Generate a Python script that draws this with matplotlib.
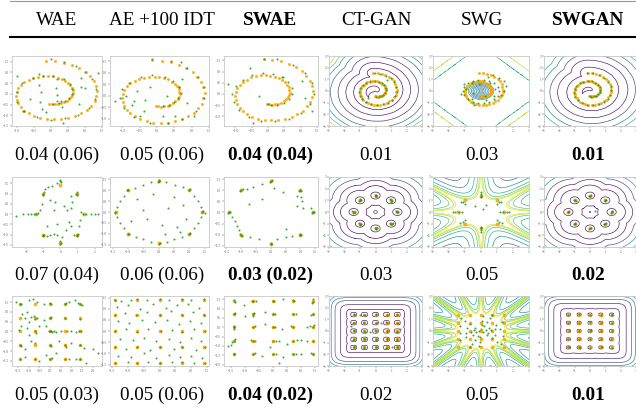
import numpy as np
import matplotlib.pyplot as plt
from matplotlib.lines import Line2D

plt.rcParams['font.family'] = ['Liberation Serif', 'DejaVu Serif']

W, H = 636, 408

methods = ['WAE', 'AE +100 IDT', 'SWAE', 'CT-GAN', 'SWG', 'SWGAN']
bold_methods = ['SWAE', 'SWGAN']
scores = [
    ['0.04 (0.06)', '0.05 (0.06)', '0.04 (0.04)', '0.01', '0.03', '0.01'],
    ['0.07 (0.04)', '0.06 (0.06)', '0.03 (0.02)', '0.03', '0.05', '0.02'],
    ['0.05 (0.03)', '0.05 (0.06)', '0.04 (0.02)', '0.02', '0.05', '0.01'],
]

# ---- target distributions (orange) ----
spiral_deg = [95, 85, 75, 65, 55, 45, 35, 25, 15, 5, -5, -15, -25, -35, -45, -55,
              -65, -75, -85, -95, -105, -115, -125, -135, -145, -155, -165, -175,
              -185, -195, -205, -215, -225, -235, -245, -255, -265, -275, -285, -295,
              -305, -315, -325, -335, -345, -355, -365, -375, -385, -395, -405, -415,
              -425, -435, -445, -455]
spiral_r = [1.55, 1.54, 1.51, 1.50, 1.47, 1.46, 1.43, 1.42, 1.39, 1.38, 1.35, 1.34,
            1.31, 1.30, 1.27, 1.26, 1.23, 1.22, 1.19, 1.18, 1.15, 1.14, 1.11, 1.10,
            1.07, 1.06, 1.03, 1.02, 0.99, 0.98, 0.95, 0.94, 0.91, 0.90, 0.87, 0.86,
            0.83, 0.82, 0.79, 0.78, 0.75, 0.74, 0.71, 0.70, 0.67, 0.66, 0.63, 0.62,
            0.59, 0.58, 0.55, 0.54, 0.51, 0.50, 0.47, 0.46]
mode8_x = [1.41, 1.0, 0.0, -1.0, -1.41, -1.0, 0.0, 1.0]
mode8_y = [0.0, 1.0, 1.41, 1.0, 0.0, -1.0, -1.41, -1.0]
grid25 = [-1.41, -0.71, 0.0, 0.71, 1.41]

# ---- generated samples (green), row 1 in (angle deg, radius) ----
wae_spiral = [(90, 1.62), (75, 1.52), (60, 1.5), (45, 1.45), (30, 1.42), (10, 1.36), (-10, 1.33),
              (-30, 1.3), (-50, 1.26), (-70, 1.2), (-90, 1.2), (-110, 1.14), (-135, 1.1), (-160, 1.06),
              (-185, 1.0), (-210, 0.97), (-235, 0.92), (-255, 0.88), (-275, 0.84), (-300, 0.78),
              (-320, 0.74), (-340, 0.68), (-360, 0.64), (-380, 0.58), (-400, 0.54), (-420, 0.5),
              (-440, 0.46), (20, 0.95), (40, 1.15), (130, 0.55), (160, 0.3), (200, 0.65), (250, 0.75),
              (300, 0.4), (-30, 0.95), (-60, 0.7), (60, 0.3), (110, 1.0), (140, 1.3), (-10, 0.2),
              (225, 1.15), (15, 1.05), (-100, 0.85), (-130, 0.5), (75, 0.7), (-75, 1.4), (35, 1.7),
              (-45, 0.45)]
ae_spiral = [(95, 1.6), (75, 1.56), (55, 1.5), (35, 1.46), (15, 1.41), (-5, 1.37), (-30, 1.31),
             (-55, 1.27), (-75, 1.22), (-100, 1.2), (-125, 1.15), (-150, 1.12), (-175, 1.08),
             (-195, 1.05), (-215, 1.0), (-240, 0.95), (-260, 0.9), (-285, 0.86), (-305, 0.8),
             (-330, 0.74), (-350, 0.7), (-370, 0.63), (-390, 0.58), (-410, 0.53), (-430, 0.49),
             (180, 0.9), (200, 0.7), (160, 0.62), (-20, 0.92), (30, 0.72), (-80, 0.92), (-120, 0.78),
             (210, 0.4), (120, 0.42), (-60, 1.02), (240, 1.0), (0, 0.3), (-150, 0.85), (45, 1.02),
             (-170, 1.25), (65, 1.62), (-40, 1.4)]
swae_spiral = [(95, 1.55), (80, 1.58), (60, 1.5), (40, 1.46), (20, 1.42), (0, 1.4), (-20, 1.36),
               (-40, 1.32), (-60, 1.3), (-80, 1.25), (-100, 1.22), (-120, 1.2), (-140, 1.15),
               (-160, 1.12), (-180, 1.1), (-200, 1.06), (-220, 1.0), (-240, 0.97), (-260, 0.94),
               (-280, 0.9), (-300, 0.85), (-320, 0.8), (-340, 0.77), (-360, 0.72), (-380, 0.68),
               (-400, 0.62), (-420, 0.56), (-440, 0.5), (-450, 0.46), (115, 1.3), (30, 1.2),
               (-30, 1.55), (200, 0.3), (-200, 1.3), (60, 0.9), (-10, 1.15), (-110, 1.38)]
ctgan_spiral = [(92, 1.54), (78, 1.52), (62, 1.49), (48, 1.47), (32, 1.44), (15, 1.4), (-2, 1.37),
                (-18, 1.34), (-35, 1.31), (-52, 1.28), (-68, 1.24), (-86, 1.2), (-104, 1.18),
                (-122, 1.14), (-140, 1.1), (-158, 1.07), (-176, 1.04), (-194, 1.0), (-212, 0.97),
                (-230, 0.93), (-248, 0.9), (-266, 0.86), (-284, 0.82), (-302, 0.78), (-320, 0.75),
                (-338, 0.71), (-356, 0.67), (-374, 0.63), (-392, 0.6), (-410, 0.56), (-428, 0.52),
                (-446, 0.48), (50, 1.2), (-130, 0.8)]
swg_spiral = [(0, 1.15), (20, 1.1), (40, 1.05), (60, 1.0), (80, 0.98), (100, 0.98), (120, 1.0),
              (140, 1.05), (160, 1.1), (180, 1.15), (200, 1.12), (220, 1.08), (240, 1.05), (260, 1.02),
              (280, 1.02), (300, 1.05), (320, 1.1), (340, 1.14), (10, 0.9), (50, 0.85), (130, 0.85),
              (170, 0.95), (230, 0.9), (290, 0.85), (330, 0.92), (70, 1.3), (45, 1.55), (30, 1.65),
              (15, 1.6), (0, 1.45), (-15, 1.3), (190, 1.3), (250, 1.25), (150, 1.2), (100, 0.6),
              (300, 0.5), (200, 0.55), (60, 1.55)]
swgan_spiral = [(96, 1.56), (82, 1.53), (66, 1.5), (50, 1.46), (34, 1.43), (18, 1.41), (2, 1.38),
                (-14, 1.35), (-30, 1.32), (-46, 1.29), (-62, 1.26), (-80, 1.21), (-98, 1.19),
                (-116, 1.15), (-134, 1.12), (-152, 1.08), (-170, 1.05), (-188, 1.01), (-206, 0.98),
                (-224, 0.95), (-242, 0.91), (-260, 0.87), (-278, 0.84), (-296, 0.8), (-314, 0.76),
                (-332, 0.72), (-350, 0.69), (-368, 0.65), (-386, 0.61), (-404, 0.57), (-422, 0.53),
                (-440, 0.49), (-452, 0.46)]

# ---- row 2 (8 gaussians), (x, y) ----
wae_8g = [(-2.6, -0.1), (-2.2, 0), (-1.9, 0), (-1.7, 0), (-1.55, -0.02), (-1.45, 0), (-1.3, 0.05),
          (-1.2, 0.2), (-1.1, 0.5), (-1.0, 1.0), (-0.95, 1.05), (-1.05, 0.95), (-0.9, 1.2), (-0.7, 1.3),
          (-0.5, 1.35), (-0.2, 1.5), (0, 1.6), (0.05, 1.55), (-0.05, 1.65), (0.6, 0.9), (0.9, 1.0),
          (0.95, 1.05), (1.0, 0.95), (0.7, 0.6), (0.6, 0.3), (0.5, -0.4), (0.6, -0.6), (1.2, 0.1),
          (1.3, 0.0), (1.5, 0.0), (1.8, 0.0), (2.0, -0.02), (2.2, 0.0), (1.15, -0.3), (1.1, -0.6),
          (1.0, -1.0), (0.95, -1.05), (1.05, -0.95), (0.8, -1.0), (-1.0, -1.0), (-0.95, -1.0),
          (-1.05, -1.05), (-0.8, -1.05), (-0.6, -1.0), (-0.4, -0.95), (-0.2, -1.0), (0, -1.45),
          (0.02, -1.4), (-0.05, -1.3), (0.1, -1.1), (-0.4, 0.2), (-0.6, 0.7), (0.2, 0.4), (-0.2, -0.5),
          (0.3, -0.8), (-0.8, -0.6), (0.4, 0.2), (-0.3, 0.6)]
ae_8g = [(1.41, 0), (1.45, 0.05), (1.5, -0.05), (1.38, 0.25), (1.28, 0.5), (1.15, 0.75), (1, 1),
         (1.02, 1.03), (0.78, 1.12), (0.52, 1.25), (0.25, 1.36), (0, 1.45), (0.02, 1.42), (-0.03, 1.38),
         (-0.25, 1.35), (-0.5, 1.25), (-0.78, 1.1), (-1, 1), (-1.03, 0.98), (-1.15, 0.72), (-1.28, 0.48),
         (-1.38, 0.22), (-1.45, 0), (-1.42, -0.03), (-1.36, -0.25), (-1.26, -0.5), (-1.15, -0.75),
         (-1, -1), (-0.98, -1.02), (-0.76, -1.12), (-0.5, -1.25), (-0.25, -1.35), (0, -1.45),
         (0.03, -1.42), (0.26, -1.36), (0.5, -1.25), (0.75, -1.12), (1, -1), (1.02, -0.97),
         (1.16, -0.72), (1.28, -0.5), (1.38, -0.25), (0.3, 0.2), (-0.4, -0.3), (0.6, -0.7),
         (-0.7, 0.6), (0.1, -0.6), (0.8, 0.3), (-0.2, 0.8), (0.5, 0.7), (-0.9, -0.4), (0.9, -0.3),
         (-0.5, 0.1), (0.2, -1.0), (0.7, -0.9)]
swae_8g = [(-1.41, 0), (-1.38, 0.02), (-1.44, -0.03), (-1.3, -0.2), (-1.22, -0.4), (-1.15, -0.6),
           (-1.08, -0.8), (-1.0, -1.0), (-0.98, -1.05), (-1.03, -0.95), (-0.7, -1.1), (-0.4, -1.2),
           (-1.0, 1.0), (-0.95, 1.05), (-1.05, 0.98), (-0.8, 1.05), (-0.6, 1.15), (-0.3, 1.3), (0, 1.41),
           (0.03, 1.45), (-0.03, 1.38), (1.0, 1.0), (1.03, 0.95), (0.95, 0.98), (1.02, 0.7), (1.05, 0.5),
           (1.1, 0.2), (0.9, 0.3), (1.41, 0), (1.45, 0.03), (1.38, -0.04), (1.35, 0.2), (1.0, -1.0),
           (0.98, -0.97), (1.03, -1.02), (0.7, -1.05), (0.5, -1.1), (0.2, -1.2), (0, -1.41),
           (0.02, -1.38), (-0.3, 0.6), (0.4, 0.9), (0.1, 1.1), (0.9, 0.75), (-0.75, 0.4), (0.5, -0.75)]
ctgan_8g = [(1.41, 0), (1.35, 0.05), (1.47, -0.04), (1.4, 0.08), (1.0, 1.0), (0.95, 1.08), (1.05, 0.95),
            (0.98, 0.9), (0, 1.41), (-0.05, 1.5), (0.04, 1.36), (0.02, 1.45), (-1.0, 1.0), (-1.06, 0.95),
            (-0.95, 1.05), (-1.02, 1.08), (-1.41, 0), (-1.5, 0.05), (-1.35, -0.03), (-1.45, -0.06),
            (-1.0, -1.0), (-1.08, -0.96), (-0.94, -1.05), (-1.0, -1.08), (0, -1.41), (0.05, -1.48),
            (-0.04, -1.35), (0.08, -1.4), (1.0, -1.0), (1.06, -1.05), (0.95, -0.96), (1.1, -0.98)]
swg_8g = [(0, 1.25), (0.02, 1.4), (-0.02, 1.55), (0, 1.7), (1.2, 0), (1.4, 0.02), (1.6, -0.03),
          (1.75, 0), (-1.2, 0), (-1.4, 0.02), (-1.6, -0.02), (-1.75, 0), (0, -1.25), (0.03, -1.4),
          (-0.02, -1.55), (0, -1.7), (1.0, 0.72), (1.15, 0.82), (1.28, 0.9), (-1.0, 0.72),
          (-1.15, 0.82), (-1.28, 0.9), (-1.0, -0.72), (-1.15, -0.82), (-1.3, -0.9), (1.0, -0.72),
          (1.15, -0.82), (1.3, -0.92), (0.3, 0.6), (-0.4, 0.5), (0.1, 0.3)]
swgan_8g = [(1.41, 0), (1.36, -0.05), (1.45, 0.06), (1.0, 1.0), (1.05, 1.04), (0.96, 0.93), (0, 1.41),
            (0.05, 1.46), (-0.04, 1.35), (-1.0, 1.0), (-1.05, 1.05), (-0.94, 0.96), (-1.41, 0),
            (-1.46, -0.04), (-1.36, 0.05), (-1.0, -1.0), (-1.04, -1.06), (-0.95, -0.94), (0, -1.41),
            (-0.05, -1.47), (0.04, -1.36), (1.0, -1.0), (1.06, -0.95), (0.94, -1.05), (0.35, 0.1)]

# ---- row 3 (25 gaussians), (x, y) ----
wae_25g = [(-1.6, 1.5), (-1.4, 1.4), (-1.35, 1.42), (-1.0, 1.6), (-0.8, 1.65), (-0.6, 1.5), (-0.3, 1.4),
           (0.0, 1.45), (0.05, 1.4), (0.7, 1.4), (0.75, 1.45), (1.3, 1.45), (1.4, 1.4), (1.5, 1.35),
           (0.9, 1.5), (1.15, 1.6), (-1.3, 0.9), (-1.1, 1.0), (-1.2, 0.7), (-0.9, 0.75), (-1.0, 0.5),
           (-0.7, 0.65), (-0.6, 0.7), (-0.75, 0.8), (-0.3, 0.6), (-1.35, 0.3), (-1.45, 0.1), (-1.1, 0.2),
           (-0.5, 0.3), (0.0, 0.7), (0.05, 0.75), (0.7, 0.7), (1.4, 0.65), (0.0, 0.0), (0.05, 0.02),
           (0.1, -0.05), (-0.05, 0.05), (0.2, 0.0), (0.3, -0.02), (0.5, 0.0), (0.8, 0.0), (1.0, 0.0),
           (1.2, -0.05), (1.35, 0.0), (1.45, 0.02), (-0.7, 0.0), (-0.65, -0.1), (-1.0, -0.2),
           (-1.4, -0.7), (-1.35, -0.75), (-1.2, -0.9), (-0.7, -0.6), (-0.9, -0.5), (0.0, -0.7),
           (0.05, -0.75), (0.4, -0.5), (0.7, -0.7), (0.75, -0.8), (1.0, -0.6), (1.4, -0.7), (1.6, -0.85),
           (2.0, -0.9), (2.25, -1.1), (-1.4, -1.4), (-1.2, -1.3), (-0.7, -1.4), (-0.5, -1.5),
           (-0.2, -1.2), (0.0, -1.4), (0.1, -1.35), (0.7, -1.4), (0.9, -1.42), (1.2, -1.4), (1.4, -1.38),
           (1.7, -1.6), (0.3, -1.1), (-0.2, 0.3)]
ae_25g = [(-1.4, 1.4), (-1.2, 1.35), (-0.9, 1.4), (-0.7, 1.42), (-0.4, 1.38), (0.0, 1.42), (0.3, 1.4),
          (0.7, 1.43), (1.0, 1.38), (1.4, 1.42), (-1.35, 1.1), (-1.0, 1.15), (-0.6, 1.0), (-0.2, 1.2),
          (0.2, 1.05), (0.55, 1.15), (0.9, 1.2), (1.25, 1.05), (-1.42, 0.7), (-1.1, 0.8), (-0.75, 0.7),
          (-0.4, 0.85), (0.0, 0.72), (0.35, 0.9), (0.7, 0.7), (1.05, 0.85), (1.4, 0.72), (-1.3, 0.45),
          (-0.95, 0.35), (-0.55, 0.5), (-0.15, 0.4), (0.25, 0.5), (0.6, 0.3), (0.95, 0.45), (1.3, 0.35),
          (-1.42, 0.0), (-1.05, 0.1), (-0.7, -0.05), (-0.35, 0.1), (0.05, 0.0), (0.4, 0.05), (0.72, -0.02),
          (1.1, 0.1), (1.42, 0.0), (-1.25, -0.35), (-0.85, -0.4), (-0.5, -0.3), (-0.1, -0.45),
          (0.3, -0.35), (0.65, -0.5), (1.0, -0.3), (1.3, -0.45), (-1.4, -0.72), (-1.05, -0.8),
          (-0.72, -0.7), (-0.3, -0.85), (0.0, -0.7), (0.45, -0.8), (0.72, -0.7), (1.15, -0.85),
          (1.42, -0.7), (-1.3, -1.1), (-0.9, -1.15), (-0.5, -1.0), (-0.1, -1.2), (0.3, -1.05),
          (0.65, -1.15), (1.0, -1.1), (1.35, -1.2), (-1.42, -1.42), (-1.0, -1.38), (-0.7, -1.42),
          (-0.35, -1.4), (0.0, -1.42), (0.4, -1.38), (0.72, -1.4), (1.1, -1.42), (1.42, -1.42)]
swae_25g = [(-1.41, 1.45), (-1.35, 1.35), (-0.71, 1.41), (-0.75, 1.38), (-0.6, 1.42), (0, 1.41),
            (0.03, 1.38), (0.71, 1.45), (0.75, 1.4), (1.41, 1.5), (1.41, 1.35), (1.38, 1.28), (0.35, 1.5),
            (-1.05, 1.2), (-1.41, 0.71), (-1.35, 0.75), (-0.71, 0.7), (-0.71, 0.6), (-0.68, 0.78),
            (0, 0.71), (0.05, 0.71), (0.71, 0.72), (0.8, 0.7), (1.41, 0.71), (1.35, 0.68), (-1.0, 0.62),
            (-0.3, 0.8), (-1.41, 0.0), (-1.41, -0.1), (-1.38, 0.08), (-0.71, 0.0), (-0.65, 0.05), (0, 0.0),
            (0.05, 0.02), (0.71, 0.0), (0.65, 0.05), (1.41, 0.0), (1.3, 0.05), (1.2, 0.02), (1.45, 0.1),
            (-0.3, 0.2), (0.3, -0.1), (-1.41, -0.71), (-1.35, -0.65), (-1.45, -0.8), (-0.71, -0.71),
            (-0.65, -0.75), (-0.78, -0.7), (0, -0.71), (0.1, -0.72), (0.2, -0.75), (0.71, -0.71),
            (0.85, -0.7), (1.41, -0.71), (1.2, -0.72), (1.0, -0.7), (-1.5, -0.95), (-1.6, -1.0),
            (-1.41, -1.41), (-1.38, -1.45), (-0.71, -1.41), (-0.65, -1.35), (-0.4, -1.55), (0, -1.41),
            (0.1, -1.45), (0.71, -1.41), (0.8, -1.42), (1.0, -1.45), (1.41, -1.45), (1.35, -1.38),
            (0.35, -1.6), (0.2, -1.9), (-0.1, -1.05), (0.5, -0.9)]
ctgan_25g = [(-1.41, 1.41), (-1.36, 1.45), (-0.71, 1.41), (-0.66, 1.36), (0, 1.41), (0.05, 1.46),
             (0.71, 1.41), (0.76, 1.37), (1.41, 1.41), (1.36, 1.47), (-1.41, 0.71), (-1.46, 0.66),
             (-0.71, 0.71), (-0.76, 0.76), (0, 0.71), (0.04, 0.66), (0.71, 0.71), (0.66, 0.77),
             (1.41, 0.71), (1.47, 0.66), (-1.41, 0), (-1.36, 0.05), (-0.71, 0), (-0.66, -0.05), (0, 0),
             (-0.05, 0.05), (0.71, 0), (0.76, 0.04), (1.41, 0), (1.36, -0.05), (-1.41, -0.71),
             (-1.46, -0.76), (-0.71, -0.71), (-0.66, -0.66), (0, -0.71), (0.05, -0.76), (0.71, -0.71),
             (0.76, -0.66), (1.41, -0.71), (1.36, -0.76), (-1.41, -1.41), (-1.36, -1.36), (-0.71, -1.41),
             (-0.76, -1.46), (0, -1.41), (0.05, -1.36), (0.71, -1.41), (0.66, -1.46), (1.41, -1.41),
             (1.46, -1.36), (-1.0, 1.4), (0.35, 0.72), (-0.35, -0.1), (1.05, -1.4), (-1.6, 0.4), (1.55, 0.2)]
swg_25g = [(0.3, 0.05), (0.6, 0.1), (0.9, 0.15), (1.2, 0.2), (-0.3, -0.05), (-0.6, -0.12), (-0.95, -0.18),
           (-1.3, -0.2), (0.2, 0.4), (0.4, 0.8), (0.55, 1.1), (0.7, 1.4), (-0.2, -0.4), (-0.4, -0.8),
           (-0.55, -1.1), (-0.7, -1.4), (-0.35, 0.3), (-0.7, 0.6), (-1.0, 0.9), (-1.25, 1.15), (0.35, -0.3),
           (0.7, -0.6), (1.0, -0.9), (1.25, -1.15), (0.05, 0.5), (0.08, 0.9), (0.1, 1.3), (-0.05, -0.5),
           (-0.08, -0.9), (-0.1, -1.3), (0.5, 0.3), (0.95, 0.55), (1.3, 0.75), (-0.5, -0.3), (-0.95, -0.55),
           (-1.3, -0.75), (-0.45, 0.1), (-0.9, 0.25), (-1.3, 0.4), (0.45, -0.15), (0.9, -0.3), (1.35, -0.45),
           (0.0, 0.2), (0.15, -0.1), (-0.1, 0.0)]
swgan_25g = [(-1.41, 1.41), (-0.71, 1.43), (0, 1.4), (0.71, 1.38), (1.43, 1.41), (-1.41, 0.7),
             (-0.72, 0.71), (0.02, 0.73), (0.7, 0.7), (1.41, 0.72), (-1.4, 0), (-0.71, 0.02), (0, -0.02),
             (0.72, 0), (1.41, 0.02), (-1.42, -0.71), (-0.7, -0.7), (0.01, -0.72), (0.71, -0.71),
             (1.4, -0.7), (-1.41, -1.41), (-0.71, -1.4), (0, -1.42), (0.72, -1.41), (1.41, -1.43),
             (-1.36, -1.38), (0.76, -1.38), (1.46, 1.45), (-0.66, -1.45), (0.05, 0.05)]


def polar(pairs):
    a = np.deg2rad([p[0] for p in pairs])
    r = np.array([p[1] for p in pairs])
    return r * np.cos(a), r * np.sin(a)


def xy(pairs):
    arr = np.array(pairs, dtype=float)
    return arr[:, 0], arr[:, 1]


sp_a = np.deg2rad(spiral_deg)
sp_x = np.array(spiral_r) * np.cos(sp_a)
sp_y = np.array(spiral_r) * np.sin(sp_a)
g25x, g25y = [a.ravel() for a in np.meshgrid(grid25, grid25)]
targets = [(sp_x, sp_y), (np.array(mode8_x), np.array(mode8_y)), (g25x, g25y)]
target_size = [4.5, 8, 7]

samples = [
    [polar(wae_spiral), polar(ae_spiral), polar(swae_spiral),
     polar(ctgan_spiral), polar(swg_spiral), polar(swgan_spiral)],
    [xy(wae_8g), xy(ae_8g), xy(swae_8g), xy(ctgan_8g), xy(swg_8g), xy(swgan_8g)],
    [xy(wae_25g), xy(ae_25g), xy(swae_25g), xy(ctgan_25g), xy(swg_25g), xy(swgan_25g)],
]

# ---- critic landscapes for the GAN columns ----
gl = np.linspace(-3, 3, 301)
GX, GY = np.meshgrid(gl, gl)


def dist_polyline(px, py):
    ax_, ay_, vx, vy = px[:-1], py[:-1], np.diff(px), np.diff(py)
    X, Y = GX[..., None], GY[..., None]
    t = np.clip(((X - ax_) * vx + (Y - ay_) * vy) / (vx ** 2 + vy ** 2), 0, 1)
    return np.hypot(X - ax_ - t * vx, Y - ay_ - t * vy).min(axis=-1)


def dist_points(px, py, p=2):
    dx = np.abs(GX[..., None] - px)
    dy = np.abs(GY[..., None] - py)
    return ((dx ** p + dy ** p) ** (1 / p)).min(axis=-1)


def ray_field(angles, w):
    f = np.zeros_like(GX)
    for a in np.deg2rad(angles):
        f += np.exp(-np.abs(-GX * np.sin(a) + GY * np.cos(a)) / w)
    return f


def vir(fracs):
    return [plt.cm.viridis(f) for f in fracs]


d_spiral = dist_polyline(sp_x, sp_y)
d_8g = dist_points(np.array(mode8_x), np.array(mode8_y))
d_25g = dist_points(g25x, g25y, p=4)
ray_lv = [0.03, 0.08, 0.16, 0.3, 0.5, 0.7, 0.85, 0.95]
ray_col = vir([0.02, 0.15, 0.3, 0.45, 0.6, 0.72, 0.85, 0.95])

contours = {
    (0, 3): [(d_spiral, [0.4, 0.9, 1.4, 1.9, 2.3, 2.6, 2.85],
              vir([0.0, 0.03, 0.12, 0.3, 0.5, 0.7, 0.88]))],
    (0, 4): [(np.hypot(GX, GY * 1.1), [0.1, 0.2, 0.3, 0.4, 0.5, 0.6, 0.7, 0.8],
              vir([0.3, 0.38, 0.46, 0.52, 0.3, 0.38, 0.46, 0.52])),
             (np.abs(GX) + np.abs(GY), [3.9, 4.7], ['#35b779', '#b5de2b'])],
    (0, 5): [(d_spiral, [0.5, 1.1, 1.6, 2.1, 2.5],
              vir([0.0, 0.05, 0.2, 0.4, 0.6]))],
    (1, 3): [(d_8g, [0.3, 0.85, 1.3, 1.8, 2.3, 2.7],
              vir([0.0, 0.02, 0.05, 0.2, 0.45, 0.75]))],
    (1, 4): [(ray_field([0, 35, 90, 145], 0.55), ray_lv, ray_col)],
    (1, 5): [(d_8g, [0.3, 0.9, 1.37, 1.85, 2.3, 2.7],
              vir([0.0, 0.02, 0.05, 0.2, 0.45, 0.75]))],
    (2, 3): [(d_25g, [0.18, 0.45, 0.85, 1.2, 1.45, 1.65, 1.85],
              vir([0.0, 0.02, 0.08, 0.25, 0.4, 0.55, 0.7]))],
    (2, 4): [(ray_field([0, 22, 45, 68, 90, 112, 135, 158], 0.3), ray_lv, ray_col)],
    (2, 5): [(d_25g, [0.13, 0.5, 0.95, 1.3, 1.55, 1.75, 1.9],
              vir([0.0, 0.02, 0.08, 0.25, 0.4, 0.55, 0.7]))],
}

# ---- layout (pixels) ----
col_px = [(12, 102), (110, 209), (224, 318), (329, 422), (433, 529), (544, 636)]
row_px = [(56, 126), (177, 247), (296, 366)]
text_cx = [57, 162, 270, 376, 482, 588]
score_base = [160, 280, 400]

fig = plt.figure(figsize=(W / 100, H / 100), dpi=100)

for r in range(3):
    tx, ty = targets[r]
    for c in range(6):
        x0, x1 = col_px[c]
        y0, y1 = row_px[r]
        ax = fig.add_axes([x0 / W, 1 - y1 / H, (x1 - x0) / W, (y1 - y0) / H])
        if (r, c) in contours:
            for field, lv, cols in contours[(r, c)]:
                ax.contour(gl, gl, field, levels=lv, colors=cols, linewidths=0.45)
        ax.scatter(tx, ty, s=target_size[r], c='#ffa500', lw=0, alpha=0.9, zorder=3)
        sx, sy = samples[r][c]
        ax.scatter(sx, sy, s=2.2, c='#1f9a1f', lw=0, alpha=0.85, zorder=4)
        if c >= 3:
            ax.set_xlim(-3, 3)
            ax.set_ylim(-3, 3)
            ax.set_xticks(range(-3, 4))
            ax.set_yticks(range(-3, 4))
        for s in ax.spines.values():
            s.set_color('#c8c8c8')
            s.set_linewidth(0.6)
        ax.tick_params(labelsize=2.3, length=1.2, width=0.3, pad=0.8, colors='#555555')

for c, name in enumerate(methods):
    fw = 'bold' if name in bold_methods else 'normal'
    fig.text(text_cx[c] / W, 1 - 25 / H, name, ha='center', va='baseline',
             fontsize=13.8, fontweight=fw)
    for r in range(3):
        fig.text(text_cx[c] / W, 1 - score_base[r] / H, scores[r][c], ha='center',
                 va='baseline', fontsize=13.8, fontweight=fw)

fig.add_artist(Line2D([10 / W, 1], [1 - 0.8 / H] * 2, color='#999999', lw=0.8))
fig.add_artist(Line2D([10 / W, 1], [1 - 37 / H] * 2, color='black', lw=1.5))

fig.savefig('out.png', dpi=100)
